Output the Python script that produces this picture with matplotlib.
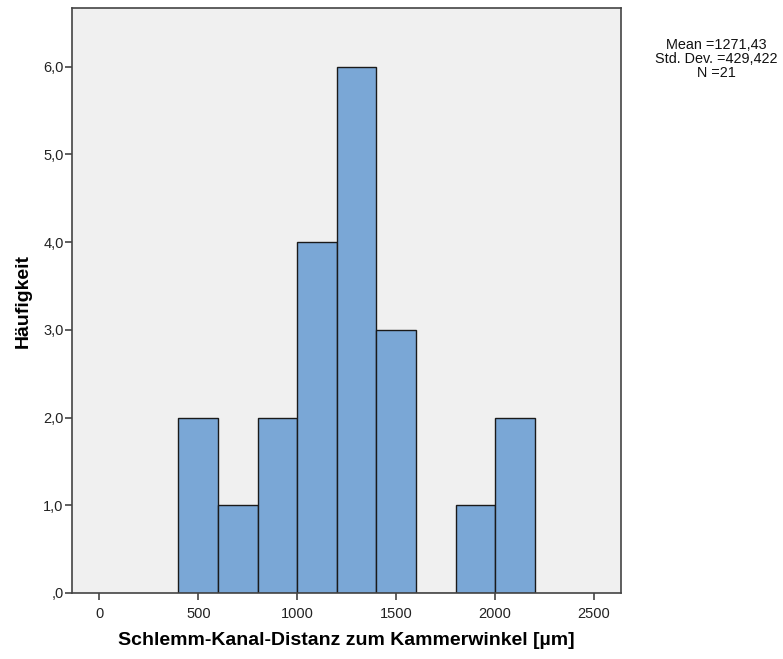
import matplotlib
matplotlib.use("Agg")
import matplotlib.pyplot as plt
from matplotlib.ticker import FixedLocator

# histogram bins (µm) and counts per bin
bin_edges = [400, 600, 800, 1000, 1200, 1400, 1600, 1800, 2000, 2200]
counts = [2, 1, 2, 4, 6, 3, 0, 1, 2]
x_ticks = [0, 500, 1000, 1500, 2000, 2500]
y_ticks = [0, 1, 2, 3, 4, 5, 6]
y_tick_labels = [",0", "1,0", "2,0", "3,0", "4,0", "5,0", "6,0"]
stats_lines = ["Mean =1271,43", "Std. Dev. =429,422", "N =21"]

plt.rcParams["font.family"] = ["Liberation Sans", "DejaVu Sans"]

fig = plt.figure(figsize=(7.83, 6.59), dpi=100)
ax = fig.add_axes([72 / 783, 1 - 593 / 659, (621 - 72) / 783, (593 - 8) / 659])
ax.set_facecolor("#f0f0f0")

widths = [b - a for a, b in zip(bin_edges[:-1], bin_edges[1:])]
ax.bar(bin_edges[:-1], counts, width=widths, align="edge",
       color="#7aa7d6", edgecolor="#1a1a1a", linewidth=1.0, zorder=2)

ax.set_xlim(-138, 2636)
ax.set_ylim(0, 6.67)
ax.xaxis.set_major_locator(FixedLocator(x_ticks))
ax.set_xticklabels([str(t) for t in x_ticks])
ax.yaxis.set_major_locator(FixedLocator(y_ticks))
ax.set_yticklabels(y_tick_labels)

for side, sp in ax.spines.items():
    sp.set_color("#444444")
    sp.set_linewidth(1.2)
ax.tick_params(axis="both", direction="out", length=5, width=1.2,
               color="#444444", labelsize=10.5, labelcolor="#222222", pad=1)
ax.tick_params(axis="x", pad=5)

ax.set_xlabel("Schlemm-Kanal-Distanz zum Kammerwinkel [µm]",
              fontsize=14, fontweight="bold", labelpad=8)
ax.set_ylabel("Häufigkeit", fontsize=14, fontweight="bold", labelpad=8)

fig.text(716 / 783, 1 - 59 / 659, "\n".join(stats_lines), ha="center", va="center",
         fontsize=10.4, color="#111111", linespacing=1.0)

fig.savefig("out.png", dpi=100, facecolor="white")
